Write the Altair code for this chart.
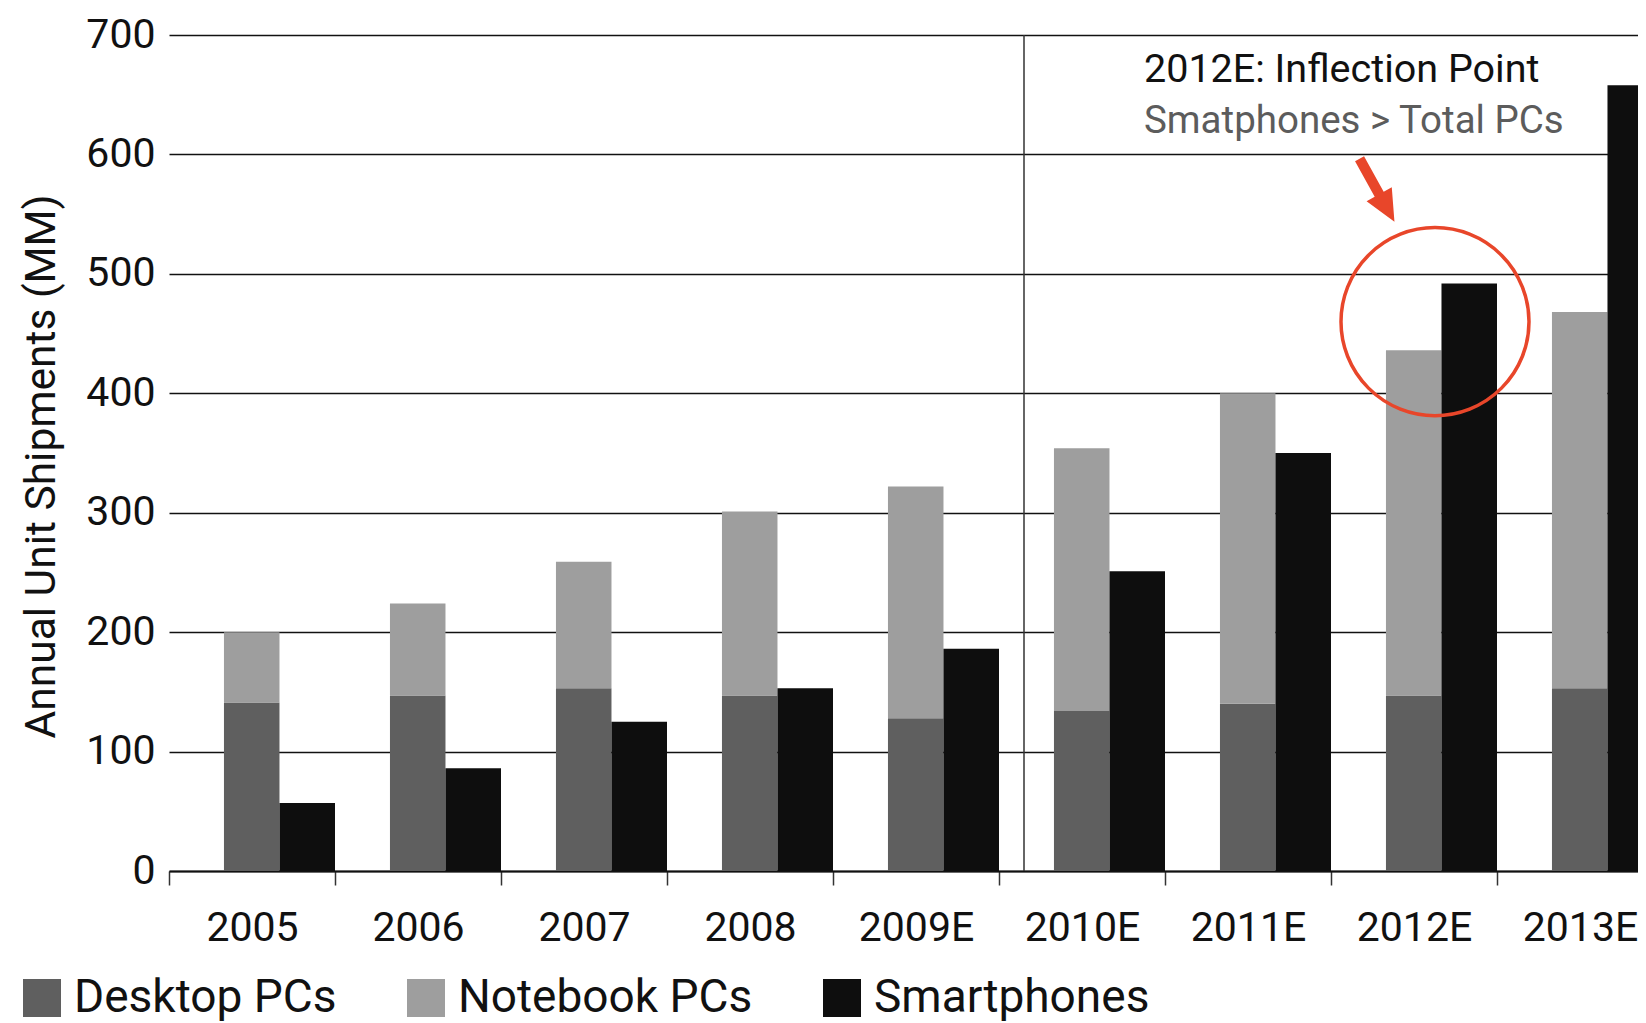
import altair as alt
import pandas as pd

# ---- data ----
years = ["2005", "2006", "2007", "2008", "2009E", "2010E", "2011E", "2012E", "2013E"]
desktop = [141, 147, 153, 147, 128, 134, 140, 147, 153]
notebook = [59, 77, 106, 154, 194, 220, 260, 289, 315]
smartphones = [57, 86, 125, 153, 186, 251, 350, 492, 658]
series = ["Desktop PCs", "Notebook PCs", "Smartphones"]
series_colors = ["#5f5f5f", "#9e9e9e", "#0e0e0e"]
y_ticks = [0, 100, 200, 300, 400, 500, 600, 700]

annotation_lines = ["2012E: Inflection Point", "Smatphones > Total PCs"]
annotation_year = "2012E"
annotation_y = [660.6, 617.9]
circle_y = [460]
arrow_y = [570]
divider_year = "2010E"

FONT = "Roboto"
RED = "#e8462a"

rows = []
for i, yr in enumerate(years):
    rows.append({"year": yr, "group": "PC", "series": series[0], "value": desktop[i], "ord": 0})
    rows.append({"year": yr, "group": "PC", "series": series[1], "value": notebook[i], "ord": 1})
    rows.append({"year": yr, "group": "Phone", "series": series[2], "value": smartphones[i], "ord": 2})
df = pd.DataFrame(rows)

x_scale = alt.Scale(domain=years, range=[0, 1494], paddingInner=0, paddingOuter=0)
y_scale = alt.Scale(domain=[0, 700], nice=False)

bars = alt.Chart(df).transform_stack(
    stack="value", as_=["v0", "v1"], groupby=["year", "group"],
    sort=[alt.SortField("ord", order="ascending")],
).mark_bar().encode(
    x=alt.X("year:N", sort=years, scale=x_scale, title=None,
            axis=alt.Axis(labelFont=FONT, labelFontSize=41, labelColor="#111",
                          labelPadding=43, labelAngle=0, labelAlign="center",
                          domainColor="#111", domainWidth=2, tickBand="extent",
                          tickColor="#333", tickSize=14, tickWidth=1.5, grid=False)),
    xOffset=alt.XOffset("group:N", sort=["PC", "Phone"],
                        scale=alt.Scale(domain=["PC", "Phone"], paddingInner=0,
                                        paddingOuter=0.495, align=1)),
    y=alt.Y("v1:Q", scale=y_scale,
            axis=alt.Axis(values=y_ticks, title="Annual Unit Shipments (MM)",
                          titleFont=FONT, titleFontSize=42.5, titleFontWeight="normal",
                          titleColor="#111", titleX=-115, titleY=431,
                          titleBaseline="alphabetic", titleAngle=270,
                          labelFont=FONT, labelFontSize=41, labelColor="#111",
                          labelPadding=14, domain=False, ticks=False, grid=True,
                          gridColor="#111", gridWidth=1.6, gridOpacity=1)),
    y2="v0:Q",
    color=alt.Color("series:N", scale=alt.Scale(domain=series, range=series_colors),
                    title=None,
                    legend=alt.Legend(orient="none", legendX=-150, legendY=940,
                                      direction="horizontal", symbolType="square",
                                      symbolSize=1444, symbolStrokeWidth=0,
                                      symbolOpacity=1, labelFont=FONT,
                                      labelFontSize=46, labelColor="#111",
                                      labelOffset=9, labelLimit=500,
                                      columnPadding=66, padding=0)),
)

div_df = pd.DataFrame({"year": [divider_year], "lo": [0], "hi": [700]})
divider = alt.Chart(div_df).mark_rule(color="#333", strokeWidth=1.5, xOffset=-58).encode(
    x=alt.X("year:N", sort=years), y=alt.Y("lo:Q"), y2="hi:Q")

t1 = pd.DataFrame({"year": [annotation_year], "y": [annotation_y[0]], "t": [annotation_lines[0]]})
t2 = pd.DataFrame({"year": [annotation_year], "y": [annotation_y[1]], "t": [annotation_lines[1]]})
text1 = alt.Chart(t1).mark_text(align="left", baseline="alphabetic", dx=-270, font=FONT,
                                fontSize=39.5, color="#111").encode(
    x=alt.X("year:N", sort=years), y="y:Q", text="t:N")
text2 = alt.Chart(t2).mark_text(align="left", baseline="alphabetic", dx=-270, font=FONT,
                                fontSize=38.5, color="#5c5c5c").encode(
    x=alt.X("year:N", sort=years), y="y:Q", text="t:N")

c_df = pd.DataFrame({"year": [annotation_year], "y": circle_y})
circle = alt.Chart(c_df).mark_point(shape="circle", size=35344, filled=False,
                                    color=RED, strokeWidth=3.5, opacity=1,
                                    xOffset=21).encode(
    x=alt.X("year:N", sort=years), y="y:Q")

a_df = pd.DataFrame({"year": [annotation_year], "y": arrow_y})
arrow = alt.Chart(a_df).mark_point(shape="arrow", size=5184, filled=True,
                                   color=RED, opacity=1, angle=151,
                                   xOffset=-37).encode(
    x=alt.X("year:N", sort=years), y="y:Q")

chart = alt.layer(divider, bars, text1, text2, circle, arrow).properties(
    width=1469, height=836,
    autosize=alt.AutoSizeParams(type="none"),
    padding={"left": 161, "top": 27, "right": 0, "bottom": 152},
    background="white",
).configure_view(strokeWidth=0)

chart.save("out.html", embed_options={"renderer": "svg", "actions": False})
